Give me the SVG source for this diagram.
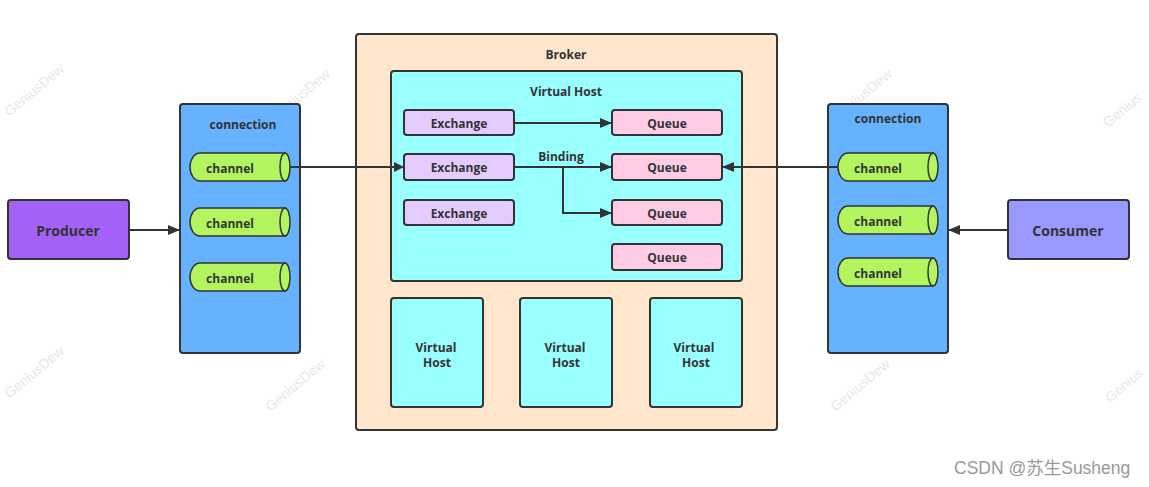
<svg xmlns="http://www.w3.org/2000/svg" width="1149" height="487" viewBox="0 0 1149 487">
<defs>
<marker id="ah" viewBox="0 0 10 10" refX="10" refY="5" markerWidth="10" markerHeight="10" markerUnits="userSpaceOnUse" orient="auto">
<path d="M0,0 L10,5 L0,10 z" fill="#333"/>
</marker>
<marker id="ahb" viewBox="0 0 12 10" refX="12" refY="5" markerWidth="12" markerHeight="10" markerUnits="userSpaceOnUse" orient="auto">
<path d="M0,0 L12,5 L0,10 z" fill="#333"/>
</marker>
</defs>
<style>
text{font-family:"Open Sans","Liberation Sans",sans-serif;font-weight:bold;fill:#333;text-anchor:middle;dominant-baseline:central}
.s{font-size:12px}
.l{font-size:14px}
.box{stroke:#333;stroke-width:2}
.ln{stroke:#333;stroke-width:2;fill:none}
.ch{fill:#b3f55e;stroke:#333;stroke-width:1.5}
.wm{font-family:"Liberation Sans",sans-serif;font-weight:normal;font-size:14px;fill:#e8e8e8}
.csdn{font-family:"Liberation Sans","Noto Sans CJK SC",sans-serif;font-weight:normal;font-size:17.5px;fill:#999;text-anchor:start}
</style>
<rect width="1149" height="487" fill="#fff"/>
<g id="watermarks">
<text class="wm" transform="translate(34,90) rotate(-40)">GeniusDew</text>
<text class="wm" transform="translate(300,95) rotate(-40)">GeniusDew</text>
<text class="wm" transform="translate(862,95) rotate(-40)">GeniusDew</text>
<text class="wm" transform="translate(1122,110) rotate(-40)">Genius</text>
<text class="wm" transform="translate(34,372) rotate(-40)">GeniusDew</text>
<text class="wm" transform="translate(295,385) rotate(-40)">GeniusDew</text>
<text class="wm" transform="translate(860,385) rotate(-40)">GeniusDew</text>
<text class="wm" transform="translate(1124,385) rotate(-40)">Genius</text>
</g>
<g id="broker">
<rect class="box" x="356" y="34" width="421" height="396" rx="3" fill="#ffe6cc"/>
<text class="s" x="566" y="54">Broker</text>
</g>
<g id="vhost-main">
<rect class="box" x="391" y="71" width="351" height="210" rx="3" fill="#99ffff"/>
<text class="s" x="566" y="91">Virtual Host</text>
</g>
<g id="exchange1"><rect class="box" x="404" y="110" width="110" height="25" rx="3" fill="#e5ccff"/><text class="s" x="459" y="123">Exchange</text></g>
<g id="exchange2"><rect class="box" x="404" y="154" width="110" height="26" rx="3" fill="#e5ccff"/><text class="s" x="459" y="167">Exchange</text></g>
<g id="exchange3"><rect class="box" x="404" y="200" width="110" height="25" rx="3" fill="#e5ccff"/><text class="s" x="459" y="213">Exchange</text></g>
<g id="queue1"><rect class="box" x="612" y="110" width="110" height="25" rx="3" fill="#ffcce6"/><text class="s" x="667" y="123">Queue</text></g>
<g id="queue2"><rect class="box" x="612" y="154" width="110" height="26" rx="3" fill="#ffcce6"/><text class="s" x="667" y="167">Queue</text></g>
<g id="queue3"><rect class="box" x="612" y="200" width="110" height="25" rx="3" fill="#ffcce6"/><text class="s" x="667" y="213">Queue</text></g>
<g id="queue4"><rect class="box" x="612" y="244" width="110" height="26" rx="3" fill="#ffcce6"/><text class="s" x="667" y="257">Queue</text></g>
<g id="vhost2"><rect class="box" x="391" y="298" width="92" height="109" rx="3" fill="#99ffff"/><text class="s" x="436" y="347">Virtual</text><text class="s" x="437" y="362">Host</text></g>
<g id="vhost3"><rect class="box" x="520" y="298" width="92" height="109" rx="3" fill="#99ffff"/><text class="s" x="565" y="347">Virtual</text><text class="s" x="566" y="362">Host</text></g>
<g id="vhost4"><rect class="box" x="650" y="298" width="92" height="109" rx="3" fill="#99ffff"/><text class="s" x="694" y="347">Virtual</text><text class="s" x="696" y="362">Host</text></g>
<g id="producer"><rect class="box" x="8" y="200" width="121" height="59" rx="3" fill="#a461f8"/><text class="l" x="68" y="230">Producer</text></g>
<g id="consumer"><rect class="box" x="1008" y="200" width="121" height="59" rx="3" fill="#9999ff"/><text class="l" x="1068" y="230">Consumer</text></g>
<g id="connection-left">
<rect class="box" x="180" y="104" width="120" height="249" rx="3" fill="#66b2ff"/>
<text class="s" x="243" y="124">connection</text>
<g id="ch-l1"><path class="ch" d="M285,153 L200,153 A10,14 0 0 0 200,181 L285,181 Z"/><ellipse class="ch" cx="285" cy="167" rx="5" ry="14"/><text class="s" x="230" y="168">channel</text></g>
<g id="ch-l2"><path class="ch" d="M285,208 L200,208 A10,14 0 0 0 200,236 L285,236 Z"/><ellipse class="ch" cx="285" cy="222" rx="5" ry="14"/><text class="s" x="230" y="223">channel</text></g>
<g id="ch-l3"><path class="ch" d="M285,263 L200,263 A10,14 0 0 0 200,291 L285,291 Z"/><ellipse class="ch" cx="285" cy="277" rx="5" ry="14"/><text class="s" x="230" y="278">channel</text></g>
</g>
<g id="connection-right">
<rect class="box" x="828" y="104" width="120" height="249" rx="3" fill="#66b2ff"/>
<text class="s" x="888" y="118">connection</text>
<g id="ch-r1"><path class="ch" d="M933,153 L848,153 A10,14 0 0 0 848,181 L933,181 Z"/><ellipse class="ch" cx="933" cy="167" rx="5" ry="14"/><text class="s" x="878" y="168">channel</text></g>
<g id="ch-r2"><path class="ch" d="M933,206 L848,206 A10,14 0 0 0 848,234 L933,234 Z"/><ellipse class="ch" cx="933" cy="220" rx="5" ry="14"/><text class="s" x="878" y="221">channel</text></g>
<g id="ch-r3"><path class="ch" d="M933,258 L848,258 A10,14 0 0 0 848,286 L933,286 Z"/><ellipse class="ch" cx="933" cy="272" rx="5" ry="14"/><text class="s" x="878" y="273">channel</text></g>
</g>
<g id="connectors">
<line class="ln" x1="129" y1="230" x2="180" y2="230" marker-end="url(#ahb)"/>
<line class="ln" x1="290" y1="167" x2="404" y2="167" marker-end="url(#ah)"/>
<line class="ln" x1="514" y1="123" x2="612" y2="123" stroke-width="1.5" marker-end="url(#ahb)"/>
<line class="ln" x1="514" y1="167" x2="612" y2="167" marker-end="url(#ahb)"/>
<polyline class="ln" points="563,167 563,213 612,213" marker-end="url(#ahb)"/>
<line class="ln" x1="838" y1="167" x2="722" y2="167" marker-end="url(#ahb)"/>
<line class="ln" x1="1008" y1="230" x2="948" y2="230" marker-end="url(#ahb)"/>
<text class="s" x="561" y="156">Binding</text>
</g>
<text class="csdn" x="954" y="468">CSDN @苏生Susheng</text>
</svg>
